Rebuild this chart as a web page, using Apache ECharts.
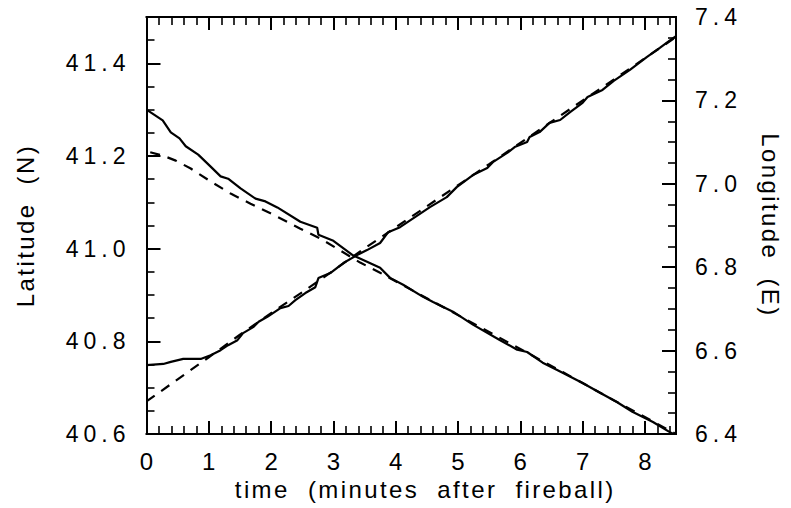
<!DOCTYPE html>
<html>
<head>
<meta charset="utf-8">
<script src="https://cdn.jsdelivr.net/npm/echarts@6/dist/echarts.min.js"></script>
<style>
html, body { margin: 0; padding: 0; background: #fff; }
#chart { width: 791px; height: 508px; }
#chart text { white-space: pre; }
</style>
</head>
<body>
<div id="chart"></div>
<script>
// Observed latitude (solid)
const timeLatObs = [0, 0.26, 0.39, 0.53, 0.63, 0.83, 1.03, 1.19, 1.31, 1.51, 1.75, 1.91, 2.10, 2.47, 2.74, 2.76, 3.00, 3.32, 3.54, 3.75, 3.91, 4.12, 4.44, 4.60, 4.92, 5.24, 5.67, 5.95, 6.11, 6.36, 6.68, 7.00, 7.28, 7.55, 7.80, 8.13, 8.40, 8.50];
const latObs = [41.300, 41.277, 41.251, 41.238, 41.221, 41.203, 41.177, 41.156, 41.151, 41.130, 41.108, 41.102, 41.089, 41.058, 41.045, 41.030, 41.017, 40.985, 40.972, 40.959, 40.937, 40.922, 40.896, 40.885, 40.864, 40.836, 40.803, 40.782, 40.777, 40.754, 40.732, 40.710, 40.689, 40.669, 40.648, 40.626, 40.604, 40.598];
// Model latitude (dashed)
const timeLatModel = [0.06, 0.26, 0.47, 0.71, 1.03, 1.35, 1.67, 2.07, 2.47, 2.79, 3.11, 3.43, 3.75, 4.5, 5.5, 6.5, 7.5, 8.5];
const latModel = [41.208, 41.201, 41.190, 41.173, 41.145, 41.119, 41.097, 41.071, 41.043, 41.022, 40.996, 40.970, 40.948, 40.893, 40.820, 40.747, 40.673, 40.600];
// Observed longitude (solid)
const timeLonObs = [0, 0.27, 0.39, 0.59, 0.87, 1.03, 1.19, 1.31, 1.46, 1.55, 1.72, 1.80, 1.94, 2.15, 2.28, 2.39, 2.55, 2.71, 2.76, 2.95, 3.16, 3.38, 3.54, 3.75, 3.88, 4.07, 4.31, 4.55, 4.82, 4.98, 5.24, 5.47, 5.56, 5.79, 5.91, 6.11, 6.15, 6.31, 6.47, 6.64, 6.80, 7.00, 7.08, 7.32, 7.50, 7.76, 8.03, 8.24, 8.43, 8.50];
const lonObs = [6.565, 6.568, 6.573, 6.580, 6.580, 6.589, 6.601, 6.613, 6.625, 6.642, 6.657, 6.669, 6.681, 6.702, 6.707, 6.721, 6.738, 6.752, 6.774, 6.786, 6.810, 6.829, 6.841, 6.858, 6.884, 6.896, 6.920, 6.944, 6.968, 6.992, 7.021, 7.038, 7.052, 7.074, 7.088, 7.100, 7.112, 7.124, 7.146, 7.153, 7.172, 7.194, 7.208, 7.225, 7.247, 7.273, 7.304, 7.326, 7.347, 7.354];
// Model longitude (dashed)
const timeLonModel = [0, 0.5, 1.0, 1.5, 2.0, 2.5, 3.0, 3.5, 4.5, 5.5, 6.5, 7.5, 8.5];
const lonModel = [6.478, 6.531, 6.584, 6.638, 6.690, 6.740, 6.792, 6.845, 6.946, 7.047, 7.149, 7.250, 7.352];

const xTitle = 'time  (minutes  after  fireball)';
const yLeftTitle = 'Latitude  (N)';
const yRightTitle = 'Longitude  (E)';

const FONT = '"Liberation Sans", Arial, Helvetica, sans-serif';
const BLACK = '#000';

function pairs(xs, ys) { return xs.map((x, i) => [x, ys[i]]); }

// major x axes (grid 0)
function xMajor(position, withLabels) {
  return {
    gridIndex: 0,
    type: 'value', min: 0, max: 8.5, interval: 1, position: position,
    axisLine: { show: true, lineStyle: { color: BLACK, width: 2 } },
    axisTick: { show: true, inside: true, length: 13, lineStyle: { color: BLACK, width: 2 } },
    axisLabel: { show: withLabels, margin: 15, fontSize: 24, color: BLACK, fontFamily: FONT, showMaxLabel: false },
    splitLine: { show: false },
    name: withLabels ? xTitle : '',
    nameLocation: 'middle', nameGap: 41,
    nameTextStyle: { fontSize: 24, color: BLACK, fontFamily: FONT, padding: [0, 0, 0, 28] }
  };
}
// minor x axes (grid 1)
function xMinor(position) {
  return {
    gridIndex: 1,
    type: 'value', min: 0, max: 8.5, interval: 0.2, position: position,
    axisLine: { show: true, lineStyle: { color: BLACK, width: 2 } },
    axisTick: { show: true, inside: true, length: 8, lineStyle: { color: BLACK, width: 1.6 } },
    axisLabel: { show: false },
    splitLine: { show: false }
  };
}
// major y axes (grid 0)
function yMajor(position, min, max, name, nameGap, nameRotate, margin) {
  return {
    gridIndex: 0,
    type: 'value', min: min, max: max, interval: 0.2, position: position,
    axisLine: { show: true, onZero: false, lineStyle: { color: BLACK, width: 2 } },
    axisTick: { show: true, inside: true, length: 14, lineStyle: { color: BLACK, width: 2 } },
    axisLabel: { show: true, margin: margin, fontSize: 23, color: BLACK, fontFamily: FONT,
      showMaxLabel: position === 'right', formatter: v => v.toFixed(1) },
    splitLine: { show: false },
    name: name,
    nameLocation: 'middle', nameGap: nameGap, nameRotate: nameRotate,
    nameTextStyle: { fontSize: 24, color: BLACK, fontFamily: FONT }
  };
}
// minor y axes (grid 1)
function yMinor(position, min, max) {
  return {
    gridIndex: 1,
    type: 'value', min: min, max: max, interval: 0.05, position: position,
    axisLine: { show: true, onZero: false, lineStyle: { color: BLACK, width: 2 } },
    axisTick: { show: true, inside: true, length: 8, lineStyle: { color: BLACK, width: 1.6 } },
    axisLabel: { show: false },
    splitLine: { show: false }
  };
}

const gridRect = { left: 146.5, right: 115, top: 17, bottom: 74, containLabel: false, outerBoundsMode: 'none' };

const chart = echarts.init(document.getElementById('chart'), null, { renderer: 'svg', width: 791, height: 508 });
chart.setOption({
  animation: false,
  backgroundColor: '#fff',
  grid: [Object.assign({}, gridRect), Object.assign({}, gridRect)],
  xAxis: [
    xMajor('bottom', true),
    xMajor('top', false),
    xMinor('bottom'),
    xMinor('top')
  ],
  yAxis: [
    yMajor('left', 40.6, 41.5, yLeftTitle, 109, 90, 16),
    yMajor('right', 6.4, 7.4, yRightTitle, 82, -90, 19),
    yMinor('left', 40.6, 41.5),
    yMinor('right', 6.4, 7.4)
  ],
  series: [
    { type: 'line', xAxisIndex: 0, yAxisIndex: 0, data: pairs(timeLatObs, latObs), symbol: 'none',
      lineStyle: { color: BLACK, width: 2.2 } },
    { type: 'line', xAxisIndex: 0, yAxisIndex: 0, data: pairs(timeLatModel, latModel), symbol: 'none',
      lineStyle: { color: BLACK, width: 2.2, type: [10, 8] } },
    { type: 'line', xAxisIndex: 0, yAxisIndex: 1, data: pairs(timeLonObs, lonObs), symbol: 'none',
      lineStyle: { color: BLACK, width: 2.2 } },
    { type: 'line', xAxisIndex: 0, yAxisIndex: 1, data: pairs(timeLonModel, lonModel), symbol: 'none',
      lineStyle: { color: BLACK, width: 2.2, type: [10, 8] } }
  ]
});

function spaceText() {
  document.querySelectorAll('#chart text').forEach(t => {
    const s = (t.textContent || '').trim();
    if (/^[0-9.]+$/.test(s)) {
      t.style.letterSpacing = s.length > 1 ? '5px' : '0px';
    } else {
      t.style.letterSpacing = '2.4px';
    }
  });
}
spaceText();
chart.on('finished', spaceText);
setTimeout(spaceText, 50);
</script>
</body>
</html>
